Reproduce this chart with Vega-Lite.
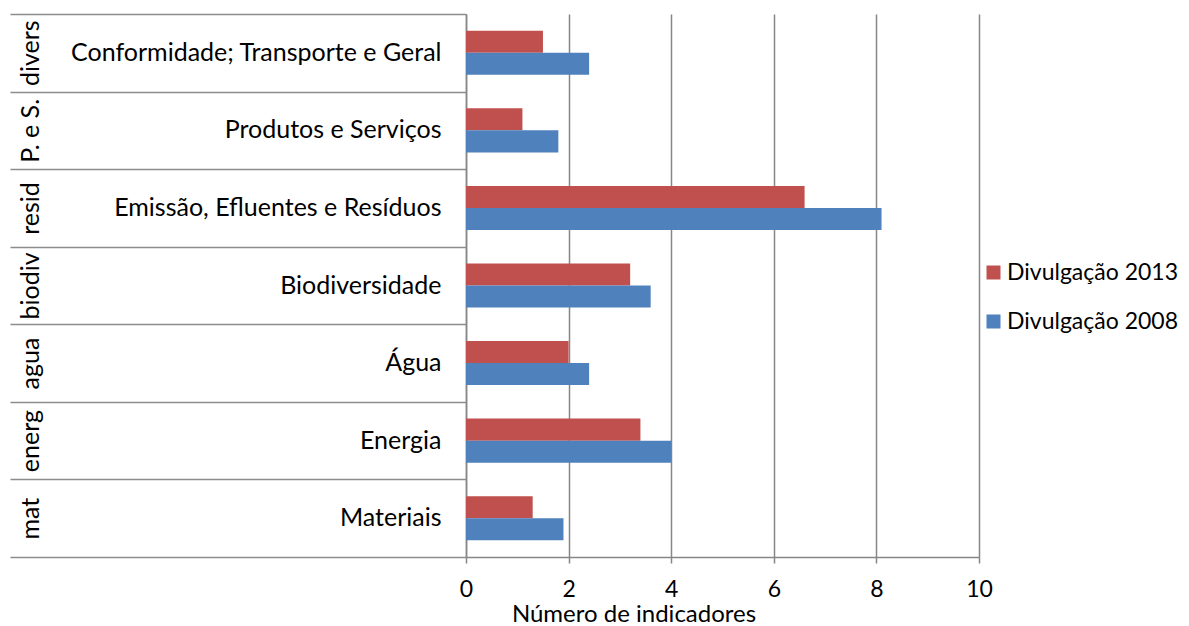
{
  "$schema": "https://vega.github.io/schema/vega-lite/v6.json",
  "autosize": "none",
  "width": 513,
  "height": 543,
  "padding": {"left": 466, "top": 14, "right": 210, "bottom": 69},
  "background": "white",
  "config": {
    "font": "Lato",
    "view": {"stroke": null},
    "axis": {"labelFont": "Lato", "titleFont": "Lato", "labelColor": "black", "titleColor": "black"},
    "legend": {"labelFont": "Lato"}
  },
  "data": {
    "values": [
      {"category": "Conformidade; Transporte e Geral", "group": "divers", "series": "Divulgação 2013", "value": 1.5},
      {"category": "Conformidade; Transporte e Geral", "group": "divers", "series": "Divulgação 2008", "value": 2.4},
      {"category": "Produtos e Serviços", "group": "P. e S.", "series": "Divulgação 2013", "value": 1.1},
      {"category": "Produtos e Serviços", "group": "P. e S.", "series": "Divulgação 2008", "value": 1.8},
      {"category": "Emissão, Efluentes e Resíduos", "group": "resid", "series": "Divulgação 2013", "value": 6.6},
      {"category": "Emissão, Efluentes e Resíduos", "group": "resid", "series": "Divulgação 2008", "value": 8.1},
      {"category": "Biodiversidade", "group": "biodiv", "series": "Divulgação 2013", "value": 3.2},
      {"category": "Biodiversidade", "group": "biodiv", "series": "Divulgação 2008", "value": 3.6},
      {"category": "Água", "group": "agua", "series": "Divulgação 2013", "value": 2.0},
      {"category": "Água", "group": "agua", "series": "Divulgação 2008", "value": 2.4},
      {"category": "Energia", "group": "energ", "series": "Divulgação 2013", "value": 3.4},
      {"category": "Energia", "group": "energ", "series": "Divulgação 2008", "value": 4.0},
      {"category": "Materiais", "group": "mat", "series": "Divulgação 2013", "value": 1.3},
      {"category": "Materiais", "group": "mat", "series": "Divulgação 2008", "value": 1.9}
    ]
  },
  "layer": [
    {
      "mark": {"type": "bar", "opacity": 0},
      "encoding": {
        "y": {
          "field": "group", "type": "nominal", "sort": null,
          "scale": {"paddingInner": 0, "paddingOuter": 0},
          "axis": {
            "orient": "left", "title": null, "domain": false, "grid": false,
            "ticks": true, "tickBand": "extent", "tickSize": 456, "tickColor": "#8c8c8c", "tickWidth": 1.5,
            "labelAngle": -90, "labelAlign": "center", "labelBaseline": "alphabetic",
            "labelPadding": -28, "labelFontSize": 25, "labelLimit": 0
          }
        },
        "x": {"field": "value", "type": "quantitative", "scale": {"domain": [0, 10]}}
      }
    },
    {
      "mark": {"type": "bar"},
      "encoding": {
        "y": {
          "field": "category", "type": "nominal", "sort": null,
          "scale": {"paddingInner": 0, "paddingOuter": 0},
          "axis": {
            "orient": "left", "title": null, "domain": true, "domainColor": "#868686", "domainWidth": 1.5,
            "ticks": false, "grid": false, "labelPadding": 25, "labelFontSize": 25, "labelLimit": 0
          }
        },
        "yOffset": {
          "field": "series", "type": "nominal", "sort": ["Divulgação 2013", "Divulgação 2008"],
          "scale": {"paddingOuter": 0.76, "paddingInner": 0}
        },
        "x": {
          "field": "value", "type": "quantitative",
          "scale": {"domain": [0, 10]},
          "axis": {
            "values": [0, 2, 4, 6, 8, 10], "grid": true, "gridColor": "#868686", "gridWidth": 1.5,
            "domainColor": "#868686", "domainWidth": 1.5, "tickColor": "#868686", "tickWidth": 1.5, "tickSize": 6,
            "labelFontSize": 23, "labelPadding": 15, "labelFlush": false,
            "title": "Número de indicadores", "titleFontSize": 24, "titleFontWeight": "normal",
            "titleX": 167.5, "titleY": 64, "titleAlign": "center", "titleBaseline": "alphabetic"
          }
        },
        "color": {
          "field": "series", "type": "nominal",
          "scale": {"domain": ["Divulgação 2013", "Divulgação 2008"], "range": ["#C0504D", "#4F81BD"]},
          "legend": {
            "title": null, "orient": "none", "legendX": 516, "legendY": 247, "padding": 0,
            "symbolType": "square", "symbolSize": 196, "symbolStrokeWidth": 0,
            "labelFontSize": 23, "labelOffset": 2, "rowPadding": 25, "labelLimit": 0
          }
        }
      }
    }
  ],
  "resolve": {"scale": {"y": "independent"}}
}
